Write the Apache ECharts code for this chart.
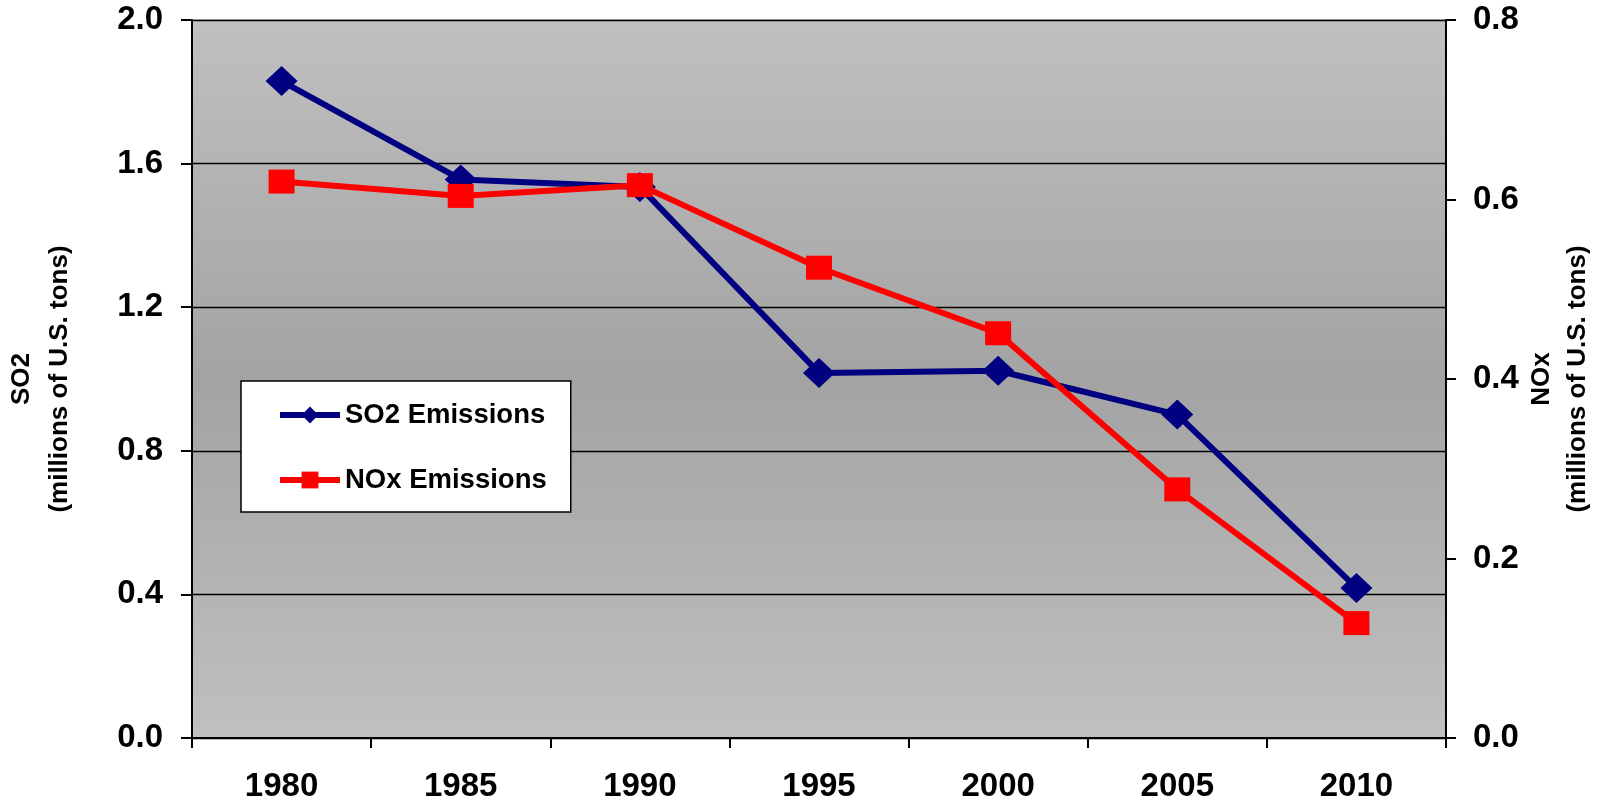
<!DOCTYPE html>
<html>
<head>
<meta charset="utf-8">
<script src="https://cdn.jsdelivr.net/npm/echarts@6/dist/echarts.min.js"></script>
<style>
  html, body { margin: 0; padding: 0; background: #fff; }
  #main { width: 1623px; height: 800px; }
</style>
</head>
<body>
<div id="main"></div>
<script>
var years = ["1980", "1985", "1990", "1995", "2000", "2005", "2010"];
var so2 = [1.83, 1.556, 1.535, 1.017, 1.023, 0.901, 0.418];
var nox = [0.62, 0.604, 0.616, 0.524, 0.451, 0.277, 0.128];

var font = "Liberation Sans, Arial, sans-serif";
var myChart = echarts.init(document.getElementById("main"), null, { renderer: "canvas" });

var option = {
  animation: false,
  textStyle: { fontFamily: font },
  grid: {
    left: 192, right: 177, top: 20, bottom: 62,
    outerBoundsMode: "none",
    containLabel: false,
    show: true,
    borderColor: "#808080",
    borderWidth: 1,
    backgroundColor: {
      type: "linear", x: 0, y: 0, x2: 0, y2: 1,
      colorStops: [
        { offset: 0, color: "#c0c0c0" },
        { offset: 0.5, color: "#a3a3a3" },
        { offset: 1, color: "#c0c0c0" }
      ]
    }
  },
  legend: {
    left: 241, top: 381,
    orient: "vertical",
    backgroundColor: "#fff",
    borderColor: "#000",
    borderWidth: 1.5,
    borderRadius: 0,
    padding: [19, 24, 17, 36],
    itemWidth: 60,
    itemHeight: 21,
    itemGap: 35,
    itemTextGap: 8,
    lineStyle: { width: 6 },
    textStyle: { fontFamily: font, fontSize: 27.5, fontWeight: "bold", color: "#000", lineHeight: 30 },
    data: ["SO2 Emissions", "NOx Emissions"]
  },
  xAxis: {
    type: "category",
    data: years,
    boundaryGap: true,
    axisLine: { lineStyle: { color: "#000", width: 2 } },
    axisTick: { show: true, length: 10, lineStyle: { color: "#000", width: 2 } },
    axisLabel: { color: "#000", fontSize: 33, fontWeight: "bold", margin: 32, fontFamily: font },
    splitLine: { show: false }
  },
  yAxis: [
    {
      type: "value",
      min: 0, max: 2, interval: 0.4,
      position: "left",
      name: "SO2\n(millions of U.S. tons)",
      nameLocation: "middle",
      nameRotate: 90,
      nameGap: 113,
      nameTextStyle: { color: "#000", fontSize: 26, fontWeight: "bold", lineHeight: 38, fontFamily: font },
      axisLine: { show: true, lineStyle: { color: "#000", width: 2 } },
      axisTick: { show: true, length: 11, lineStyle: { color: "#000", width: 2 } },
      axisLabel: {
        color: "#000", fontSize: 33, fontWeight: "bold", margin: 29, fontFamily: font,
        formatter: function (v) { return v.toFixed(1); }
      },
      splitLine: { show: true, lineStyle: { color: "#000", width: 1.3 } }
    },
    {
      type: "value",
      min: 0, max: 0.8, interval: 0.2,
      position: "right",
      name: "NOx\n(millions of U.S. tons)",
      nameLocation: "middle",
      nameRotate: 90,
      nameGap: 78,
      nameMoveOverlap: false,
      nameTextStyle: { color: "#000", fontSize: 26, fontWeight: "bold", lineHeight: 36, fontFamily: font },
      axisLine: { show: true, lineStyle: { color: "#000", width: 2 } },
      axisTick: { show: true, length: 10, lineStyle: { color: "#000", width: 2 } },
      axisLabel: {
        color: "#000", fontSize: 33, fontWeight: "bold", margin: 27, fontFamily: font,
        formatter: function (v) { return v.toFixed(1); }
      },
      splitLine: { show: false }
    }
  ],
  series: [
    {
      name: "SO2 Emissions",
      type: "line",
      yAxisIndex: 0,
      data: so2,
      symbol: "diamond",
      symbolSize: [32, 30],
      color: "#000080",
      lineStyle: { color: "#000080", width: 6 },
      itemStyle: { color: "#000080" },
      z: 3
    },
    {
      name: "NOx Emissions",
      type: "line",
      yAxisIndex: 1,
      data: nox,
      symbol: "rect",
      symbolSize: [26, 24],
      color: "#ff0000",
      lineStyle: { color: "#ff0000", width: 6 },
      itemStyle: { color: "#ff0000" },
      z: 4
    }
  ]
};

myChart.setOption(option);
window.addEventListener("resize", myChart.resize);
</script>
</body>
</html>
